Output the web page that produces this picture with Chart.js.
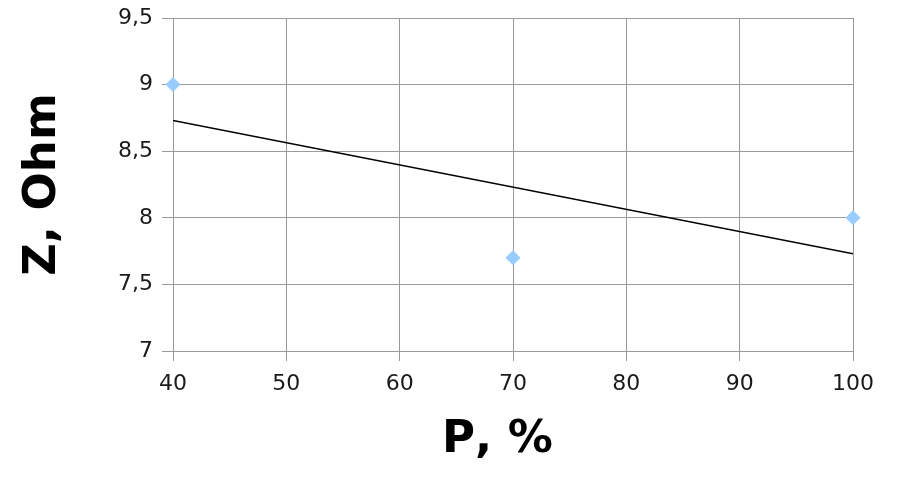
<!DOCTYPE html>
<html>
<head>
<meta charset="utf-8">
<script src="https://cdn.jsdelivr.net/npm/chart.js@4/dist/chart.umd.min.js"></script>
<style>
  html, body { margin: 0; padding: 0; background: #fff; }
  #wrap { width: 900px; height: 494px; }
</style>
</head>
<body>
<div id="wrap"><canvas id="c" width="900" height="494"></canvas></div>
<script>
// Data
const pValues = [40, 70, 100];          // P, %
const zValues = [9, 7.7, 8];            // Z, Ohm
const trendX = [40, 100];               // trend line ends
const trendY = [8.73, 7.73];
const xTickValues = [40, 50, 60, 70, 80, 90, 100];
const yTickValues = [7, 7.5, 8, 8.5, 9, 9.5];
const yTickLabels = ['7', '7,5', '8', '8,5', '9', '9,5'];
const xTitle = 'P, %';
const yTitle = 'Z, Ohm';

const gridColor = '#9a9a9a';
const tickFont = { family: 'DejaVu Sans', size: 22 };
const titleFont = { family: 'DejaVu Sans', size: 45, weight: 'bold' };

const noKerning = {
  id: 'noKerning',
  beforeDraw(chart) { try { chart.ctx.fontKerning = 'none'; } catch (e) {} }
};

new Chart(document.getElementById('c'), {
  type: 'scatter',
  plugins: [noKerning],
  data: {
    datasets: [
      {
        type: 'line',
        data: trendX.map((x, i) => ({ x, y: trendY[i] })),
        borderColor: '#000',
        borderWidth: 1.5,
        pointRadius: 0,
        fill: false,
        order: 1
      },
      {
        data: pValues.map((x, i) => ({ x, y: zValues[i] })),
        pointStyle: 'rectRot',
        pointRadius: 7.5,
        backgroundColor: '#99ccff',
        borderColor: '#99ccff',
        borderWidth: 0,
        clip: false,
        order: 0
      }
    ]
  },
  options: {
    responsive: false,
    animation: false,
    devicePixelRatio: 1,
    layout: { padding: { top: 18, right: 47, bottom: 0, left: 0 } },
    plugins: { legend: { display: false }, tooltip: { enabled: false } },
    scales: {
      x: {
        type: 'linear',
        min: 40, max: 100,
        afterBuildTicks: s => { s.ticks = xTickValues.map(v => ({ value: v })); },
        afterFit: s => { s.height = 143; },
        ticks: { font: tickFont, color: '#1a1a1a', padding: 10, callback: v => String(v) },
        grid: { color: gridColor, lineWidth: 1, tickLength: 10 },
        border: { color: gridColor, width: 1 },
        title: { display: true, text: xTitle + '\u00a0\u00a0', font: titleFont, color: '#000', padding: { top: 0, bottom: 27 } }
      },
      y: {
        min: 7, max: 9.5,
        afterBuildTicks: s => { s.ticks = yTickValues.map(v => ({ value: v })); },
        afterFit: s => { s.width = 173; s.paddingTop = 0; s.paddingBottom = 0; },
        ticks: { font: tickFont, color: '#1a1a1a', padding: 9,
          callback: v => { const i = yTickValues.indexOf(v); return i >= 0 ? yTickLabels[i] : ''; } },
        grid: { color: gridColor, lineWidth: 1, tickLength: 11 },
        border: { color: gridColor, width: 1 },
        title: { display: true, text: yTitle, font: titleFont, color: '#000', padding: { top: 16, bottom: 0 } }
      }
    }
  }
});
</script>
</body>
</html>
